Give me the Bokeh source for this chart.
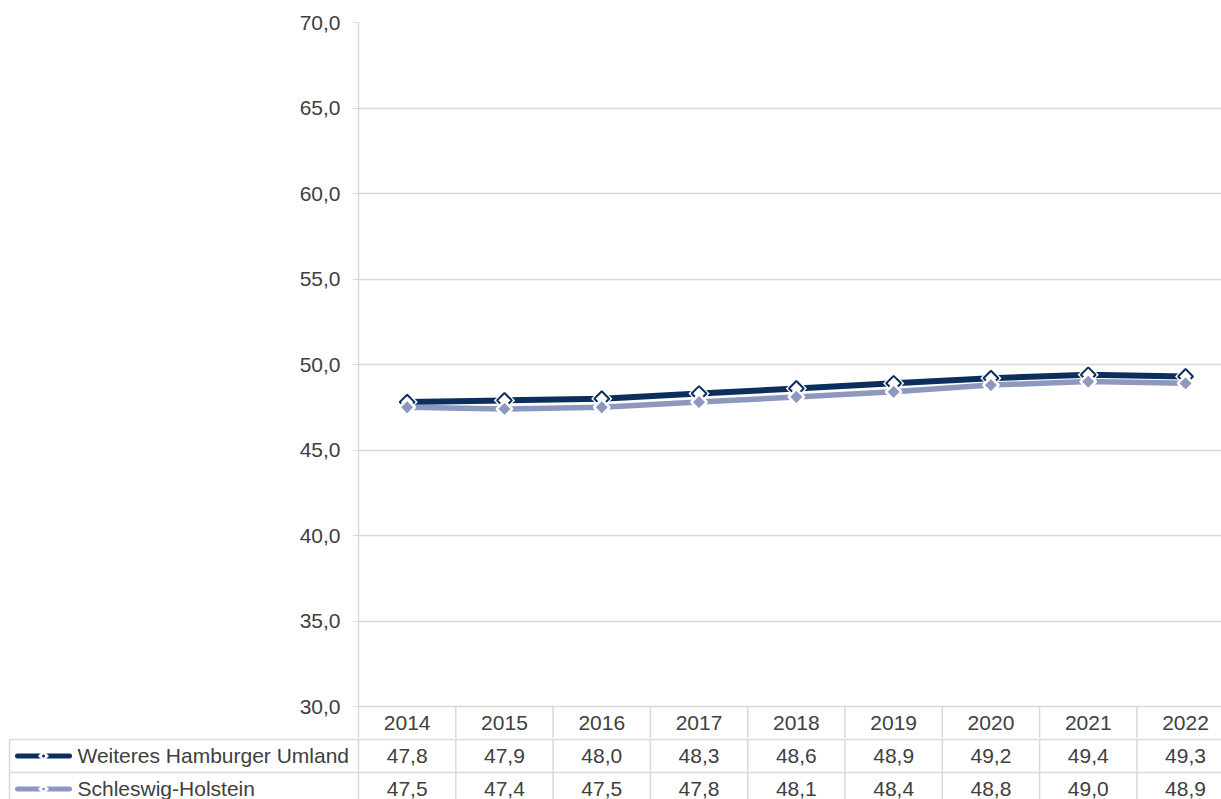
import math
from bokeh.plotting import figure
from bokeh.models import Range1d, FixedTicker
from bokeh.core.properties import value
from bokeh.embed import file_html
from bokeh.resources import INLINE

# ---- data ----
years = ["2014", "2015", "2016", "2017", "2018", "2019", "2020", "2021", "2022"]
series_names = ["Weiteres Hamburger Umland", "Schleswig-Holstein"]
umland = [47.8, 47.9, 48.0, 48.3, 48.6, 48.9, 49.2, 49.4, 49.3]
sh = [47.5, 47.4, 47.5, 47.8, 48.1, 48.4, 48.8, 49.0, 48.9]
y_ticks = [30, 35, 40, 45, 50, 55, 60, 65, 70]
y_tick_labels = ["30,0", "35,0", "40,0", "45,0", "50,0", "55,0", "60,0", "65,0", "70,0"]

# ---- style ----
DARK = "#0c2e5c"
LIGHT = "#8e98be"
GRID = "#d9d9d9"
TXT = "#404040"
FONT = "Liberation Sans"
FS = "21px"

W = 1221
LEFT = 358          # frame left offset in px
COLW = 97.3         # px per category
XEND = (W - LEFT) / COLW
PX_PER_UNIT = 17.1
TOP_H = 738
TOP_BORDER = 22
frame_h = TOP_H - TOP_BORDER
ymin = 70 - frame_h / PX_PER_UNIT

xs = [i + 0.5 for i in range(len(years))]

p = figure(width=W, height=TOP_H, x_range=Range1d(0, XEND), y_range=Range1d(ymin, 70),
           output_backend="svg", toolbar_location=None, x_axis_location=None,
           min_border_left=LEFT, min_border_right=0, min_border_top=TOP_BORDER,
           min_border_bottom=0, outline_line_color=None)
p.xgrid.visible = False
ticker = FixedTicker(ticks=y_ticks)
p.yaxis.ticker = ticker
p.yaxis.major_label_overrides = {t: l for t, l in zip(y_ticks, y_tick_labels)}
p.yaxis.axis_line_color = GRID
p.yaxis.axis_line_width = 1.5
p.yaxis.major_tick_line_color = GRID
p.yaxis.major_tick_out = 6
p.yaxis.major_tick_in = 0
p.yaxis.minor_tick_line_color = None
p.yaxis.major_label_text_font = FONT
p.yaxis.major_label_text_font_size = FS
p.yaxis.major_label_text_color = TXT
p.yaxis.major_label_standoff = 12
p.ygrid.ticker = ticker
p.ygrid.grid_line_color = GRID
p.ygrid.grid_line_width = 1.5

# header row (years) below the plot area
hdr_y = 30 - 16 / PX_PER_UNIT
p.text(x=xs, y=[hdr_y] * len(xs), text=years, text_align="center", text_baseline="middle",
       text_font=value(FONT), text_font_size=FS, text_color=TXT)
div_x = list(range(1, len(years) + 1))
p.segment(x0=div_x, y0=[30] * len(div_x), x1=div_x, y1=[ymin] * len(div_x),
          line_color=GRID, line_width=1.5)

# series
p.line(xs, umland, line_color=DARK, line_width=6)
p.line(xs, sh, line_color=LIGHT, line_width=5.5)
p.scatter(xs, umland, marker="square", angle=math.pi / 4, size=15, fill_color="white", line_color=None)
p.scatter(xs, umland, marker="square", angle=math.pi / 4, size=10.5, fill_color="white",
          line_color=DARK, line_width=2)
p.scatter(xs, sh, marker="square", angle=math.pi / 4, size=11, fill_color=LIGHT,
          line_color="white", line_width=2.5)

# ---- data table ----
B_H = 61
ROWH = 33
top_val = -0.53
t = figure(width=W, height=B_H, x_range=Range1d(-LEFT / COLW, XEND),
           y_range=Range1d(top_val + B_H / ROWH, top_val),
           output_backend="svg", toolbar_location=None, x_axis_location=None,
           y_axis_location=None, min_border=0, outline_line_color=None)
t.xgrid.visible = False
t.ygrid.visible = False
x_left = (9 - LEFT) / COLW
hx = [-0.5, 0.5, 1.5]
t.segment(x0=[x_left] * 3, y0=hx, x1=[len(years) + 1] * 3, y1=hx, line_color=GRID, line_width=1.5)
vx = [x_left] + list(range(0, len(years) + 1))
t.segment(x0=vx, y0=[-0.5] * len(vx), x1=vx, y1=[2] * len(vx), line_color=GRID, line_width=1.5)

series = [(series_names[0], umland, DARK), (series_names[1], sh, LIGHT)]
key_x0 = (17 - LEFT) / COLW
key_x1 = (69 - LEFT) / COLW
key_xm = (43 - LEFT) / COLW
lab_x = (77 - LEFT) / COLW
for r, (name, vals, col) in enumerate(series):
    t.segment(x0=[key_x0], y0=[r], x1=[key_x1], y1=[r], line_color=col, line_width=5,
              line_cap="round")
    t.scatter([key_xm], [r], marker="square", angle=math.pi / 4, size=7, fill_color="white",
              line_color="white", line_width=1)
    t.scatter([key_xm], [r], marker="circle", size=3, fill_color=col, line_color=None)
    t.text(x=[lab_x], y=[r], text=[name], text_align="left", text_baseline="middle",
           text_font=value(FONT), text_font_size=FS, text_color=TXT)
    t.text(x=xs, y=[r] * len(xs), text=[f"{v:.1f}".replace(".", ",") for v in vals],
           text_align="center", text_baseline="middle",
           text_font=value(FONT), text_font_size=FS, text_color=TXT)

open("out.html", "w").write(file_html([p, t], INLINE))
